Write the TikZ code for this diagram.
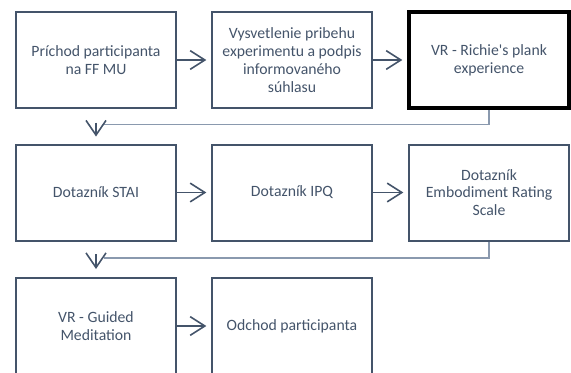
\documentclass[tikz,border=0pt]{standalone}
\usepackage{fontspec}
\setmainfont{Carlito}
\usetikzlibrary{arrows.meta,calc}
\definecolor{slate}{HTML}{44546A}
\definecolor{connc}{HTML}{8A99AE}
\begin{document}
\begin{tikzpicture}[x=0.75pt,y=-0.75pt,
  stepbox/.style={draw=slate,line width=1.5pt,minimum width=120pt,minimum height=72pt,
    inner sep=0pt,align=center,text=slate,font=\fontsize{11.8pt}{13.3pt}\selectfont},
  thickbox/.style={stepbox,draw=black,line width=3pt},
  harr/.style={draw=slate,line width=1.2pt,-{Straight Barb[length=11pt,width=14pt,line width=1.2pt]},shorten >=3.5pt},
  conn/.style={draw=connc,line width=1.4pt},
  vtip/.style={draw=slate,line width=1.2pt,-{Straight Barb[length=11pt,width=15pt,line width=1.2pt]}}
]
\useasboundingbox (0,0) rectangle (571,372);
\node[stepbox] (p1) at (96,60) {Príchod participanta\\na FF MU};
\node[stepbox] (p2) at (292,60) {Vysvetlenie pribehu\\experimentu a podpis\\informovaného\\súhlasu};
\node[thickbox] (p3) at (489,60) {VR - Richie\textquotesingle s plank\\experience};
\node[stepbox] (p4) at (96,192.5) {Dotazník STAI};
\node[stepbox] (p5) at (292,192.5) {Dotazník IPQ};
\node[stepbox] (p6) at (489,192.5) {Dotazník\\Embodiment Rating\\Scale};
\node[stepbox] (p7) at (96,326) {VR - Guided\\Meditation};
\node[stepbox] (p8) at (292,326) {Odchod participanta};

\draw[harr] (p1.east) -- (p2.west);
\draw[harr] (p2.east) -- (p3.west);
\draw[harr] (p4.east) -- (p5.west);
\draw[harr] (p5.east) -- (p6.west);
\draw[harr] (p7.east) -- (p8.west);

\coordinate (j1) at ($(p4.north)+(8,-19)$);
\coordinate (a1) at ($(p4.north)+(0,-21)$);
\coordinate (b1) at ($(p4.north)+(0,-7)$);
\draw[conn] (p3.south) |- (j1);
\draw[vtip] (a1) -- (b1);

\coordinate (j2) at ($(p7.north)+(8,-19)$);
\coordinate (a2) at ($(p7.north)+(0,-23)$);
\coordinate (b2) at ($(p7.north)+(0,-8)$);
\draw[conn] (p6.south) |- (j2);
\draw[vtip] (a2) -- (b2);
\end{tikzpicture}
\end{document}
